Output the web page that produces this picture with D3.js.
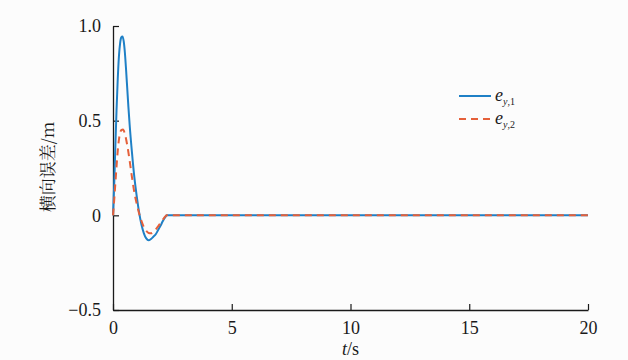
<!DOCTYPE html>
<html>
<head>
<meta charset="utf-8">
<script src="https://cdn.jsdelivr.net/npm/d3@7"></script>
<style>
  html, body { margin: 0; padding: 0; background: #fcfcfc; }
  svg { display: block; }
</style>
</head>
<body>
<svg id="chart" width="628" height="360"></svg>
<script>
// Lateral error e_y,1 (solid) and e_y,2 (dashed) over time, [t (s), error (m)]
const seriesY1 = [
  [0, 0], [0.05, 0.16], [0.1, 0.37], [0.15, 0.56], [0.2, 0.72], [0.25, 0.84],
  [0.3, 0.91], [0.35, 0.94], [0.4, 0.945], [0.45, 0.92], [0.5, 0.86], [0.55, 0.77],
  [0.6, 0.67], [0.65, 0.57], [0.7, 0.48], [0.8, 0.33], [0.9, 0.2], [1.0, 0.1],
  [1.1, 0.015], [1.2, -0.05], [1.3, -0.095], [1.4, -0.122], [1.5, -0.132],
  [1.6, -0.125], [1.7, -0.113], [1.8, -0.1], [1.9, -0.078], [2.0, -0.055],
  [2.1, -0.03], [2.2, -0.01], [2.26, 0], [20, 0]
];
const seriesY2 = [
  [0, 0], [0.05, 0.08], [0.1, 0.17], [0.15, 0.26], [0.2, 0.34], [0.25, 0.4],
  [0.3, 0.435], [0.35, 0.45], [0.42, 0.453], [0.5, 0.43], [0.6, 0.37], [0.7, 0.29],
  [0.8, 0.2], [0.9, 0.12], [1.0, 0.06], [1.1, 0.01], [1.2, -0.03], [1.3, -0.062],
  [1.4, -0.082], [1.5, -0.093], [1.6, -0.095], [1.7, -0.089], [1.8, -0.075],
  [1.9, -0.058], [2.0, -0.04], [2.1, -0.022], [2.2, -0.006], [2.26, 0], [20, 0]
];
const xTicks = [0, 5, 10, 15, 20];
const yTicks = [-0.5, 0, 0.5, 1.0];
const yTickLabels = ["\u22120.5", "0", "0.5", "1.0"];
const yTitle = "横向误差/m";

const SERIF = "Liberation Serif, Times New Roman, serif";
const INK = "#1a1a1a";

const svg = d3.select("#chart");
const plotL = 113, plotR = 588, plotT = 26, plotB = 310;

const x = d3.scaleLinear().domain([0, 20]).range([plotL, plotR]);
const y = d3.scaleLinear().domain([-0.5, 1.0]).range([plotB, plotT]);

function styleAxis(g) {
  g.attr("font-family", SERIF).attr("font-size", 18);
  g.select(".domain").attr("stroke", INK).attr("stroke-width", 1.3);
  g.selectAll(".tick line").attr("stroke", INK).attr("stroke-width", 1.2);
  g.selectAll(".tick text").attr("fill", INK).attr("font-family", SERIF).attr("font-size", 18);
}

// x axis with inward ticks
const gx = svg.append("g").attr("transform", `translate(0,${plotB})`)
  .call(d3.axisBottom(x).tickValues(xTicks).tickSizeInner(-6).tickSizeOuter(0).tickPadding(11)
    .tickFormat(d3.format("d")));
styleAxis(gx);

// y axis with inward ticks
const gy = svg.append("g").attr("transform", `translate(${plotL},0)`)
  .call(d3.axisLeft(y).tickValues(yTicks).tickSizeInner(-6).tickSizeOuter(0).tickPadding(12)
    .tickFormat((d, i) => yTickLabels[i]));
styleAxis(gy);

// axis titles
const xt = svg.append("text")
  .attr("x", (plotL + plotR) / 2).attr("y", 355)
  .attr("text-anchor", "middle")
  .attr("font-family", SERIF).attr("font-size", 18).attr("fill", INK);
xt.append("tspan").attr("font-style", "italic").text("t");
xt.append("tspan").text("/s");

svg.append("text")
  .attr("transform", "translate(54,167) rotate(-90)")
  .attr("text-anchor", "middle")
  .attr("font-family", "Noto Serif CJK SC, Noto Sans CJK SC, sans-serif").attr("font-size", 17)
  .attr("fill", INK)
  .text(yTitle);

// curves
const line = d3.line().x(d => x(d[0])).y(d => y(d[1])).curve(d3.curveMonotoneX);

svg.append("path").datum(seriesY1)
  .attr("d", line).attr("fill", "none")
  .attr("stroke", "#1f80c6").attr("stroke-width", 2);

svg.append("path").datum(seriesY2)
  .attr("d", line).attr("fill", "none")
  .attr("stroke", "#e5603a").attr("stroke-width", 2)
  .attr("stroke-dasharray", "7,5");

// legend
const legend = [
  { sub: "1", color: "#1f80c6", dash: null, yPos: 96 },
  { sub: "2", color: "#e5603a", dash: "7,5", yPos: 119 }
];
legend.forEach(it => {
  svg.append("line")
    .attr("x1", 459).attr("x2", 491).attr("y1", it.yPos).attr("y2", it.yPos)
    .attr("stroke", it.color).attr("stroke-width", 2)
    .attr("stroke-dasharray", it.dash);
  const t = svg.append("text")
    .attr("x", 495).attr("y", it.yPos + 5)
    .attr("font-family", SERIF).attr("fill", INK);
  t.append("tspan").attr("font-style", "italic").attr("font-size", 18).text("e");
  t.append("tspan").attr("font-size", 10).attr("dy", 4).attr("font-style", "italic").text("y");
  t.append("tspan").attr("font-size", 10).text("," + it.sub);
});
</script>
</body>
</html>
